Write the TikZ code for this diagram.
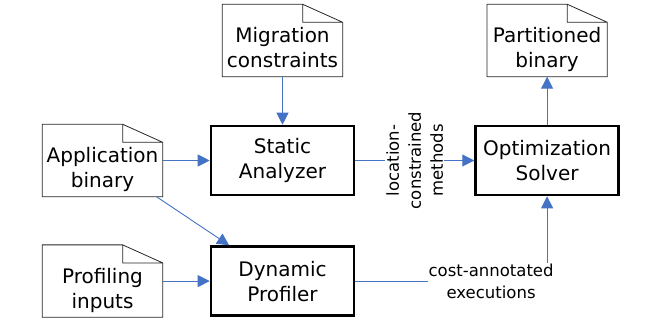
\documentclass[tikz,border=0pt]{standalone}
\usepackage{fontspec}
\setmainfont{DejaVu Sans}
\usepackage{xcolor}
\usepackage{tikz}
\usetikzlibrary{arrows.meta,positioning}
\definecolor{flowblue}{HTML}{4472C4}
\tikzset{
  procbox/.style={draw, line width=2.6pt, minimum width=143pt, minimum height=69pt, align=center, font=\fontsize{20}{25}\selectfont},
  docnode/.style={minimum width=120pt, minimum height=72pt, inner sep=0pt, text height=59pt, text depth=5pt, align=center, font=\fontsize{20}{25}\selectfont},
  flow/.style={draw=flowblue, line width=0.9pt, -{Triangle[length=12pt,width=12pt]}},
  edgelbl/.style={fill=white, align=center, inner sep=1pt, font=\fontsize{16.5}{22}\selectfont}
}

\begin{document}
\begin{tikzpicture}[x=1pt,y=-1pt]
  \useasboundingbox (0,0) rectangle (654,326);

  % processing steps
  \node[procbox] (static) at (282.5,160.5) {Static\\Analyzer};
  \node[procbox, below=49pt of static] (dyn) {Dynamic\\Profiler};
  \node[procbox, right=119pt of static] (opt) {Optimization\\Solver};

  % input and output files
  \node[docnode, above=48pt of static] (migr) {Migration\\constraints};
  \node[docnode, left=47pt of static] (app) {Application\\binary};
  \node[docnode, left=47pt of dyn] (prof) {Profiling\\inputs};
  \node[docnode, above=48pt of opt] (part) {Partitioned\\binary};

  \foreach \d in {migr,part,app,prof}
    \draw[line width=0.8pt, black!85] (\d.south west) -- (\d.north west) -- ([xshift=-40pt]\d.north east)
      -- ([yshift=-18pt]\d.north east) -- (\d.south east) -- cycle
      ([xshift=-40pt]\d.north east) |- ([yshift=-18pt]\d.north east);

  % connectors
  \draw[flow] (migr) -- (static);
  \draw[flow] (app) -- (static);
  \draw[flow] (app) -- (dyn);
  \draw[flow] (prof) -- (dyn);
  \draw[flow] (opt) -- (part);
  \draw[flow] (static) -- node[edgelbl, rotate=90] {location-\\constrained\\methods} (opt);
  \draw[flow] (dyn.east) -| node[edgelbl, pos=0.354] {cost-annotated\\executions} (opt.south);
\end{tikzpicture}
\end{document}
